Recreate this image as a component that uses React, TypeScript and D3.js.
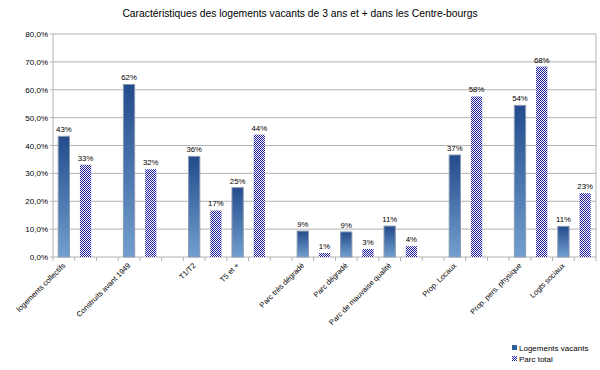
import React from "react";
import { scaleBand, scaleLinear, format } from "d3";

// one slot per bar; labels sit under the first bar of each group
const categories = [
  "logements collectifs", "", "",
  "Construits avant 1949", "", "",
  "T1/T2", "", "T5 et +", "", "",
  "Parc très dégradé", "", "Parc dégradé", "", "Parc de mauvaise qualité", "", "",
  "Prop. Locaux", "", "",
  "Prop. pers. physique", "", "Logts sociaux", "",
];
const vacants = [43.3, null, null, 61.9, null, null, 36.1, null, 24.9, null, null, 9.3, null, 9.0, null, 11.1, null, null, 36.6, null, null, 54.4, null, 11.0, null];
const parcTotal = [null, 33.1, null, null, 31.5, null, null, 16.7, null, 43.9, null, null, 1.4, null, 2.9, null, 3.9, null, null, 57.6, null, null, 68.3, null, 22.9];
const yTicks = [0, 10, 20, 30, 40, 50, 60, 70, 80];
const seriesNames = ["Logements vacants", "Parc total"];

const W = 600;
const H = 370;
const margin = { top: 34, right: 4, bottom: 113, left: 53 };

export default function App() {
  const x = scaleBand<number>()
    .domain(categories.map((_, i) => i))
    .range([margin.left, W - margin.right])
    .paddingInner(0.48)
    .paddingOuter(0.24);
  const y = scaleLinear().domain([0, 80]).range([H - margin.bottom, margin.top]);
  const step = x.step();
  const fmtAxis = (v: number) => format(".1f")(v).replace(".", ",") + "%";
  const font = "'Liberation Sans', Arial, sans-serif";
  const slotLeft = (i: number) => margin.left + i * step;

  const bars: { i: number; v: number; s: number }[] = [];
  categories.forEach((_, i) => {
    if (vacants[i] != null) bars.push({ i, v: vacants[i] as number, s: 0 });
    if (parcTotal[i] != null) bars.push({ i, v: parcTotal[i] as number, s: 1 });
  });

  return (
    <svg width={W} height={H} style={{ position: "absolute", left: 0, top: 0, fontFamily: font }}>
      <defs>
        <linearGradient id="gradVac" x1="0" y1="0" x2="0" y2="1">
          <stop offset="0%" stopColor="#244b8c" />
          <stop offset="100%" stopColor="#729fcf" />
        </linearGradient>
        <pattern id="checker" width="2" height="2" patternUnits="userSpaceOnUse">
          <rect width="2" height="2" fill="#ffffff" />
          <rect width="1" height="1" fill="#1c1c9c" />
          <rect x="1" y="1" width="1" height="1" fill="#1c1c9c" />
        </pattern>
      </defs>
      <rect width={W} height={H} fill="#fff" />
      <text x={W / 2} y={17} textAnchor="middle" fontSize={10.3} fill="#000">
        Caractéristiques des logements vacants de 3 ans et + dans les Centre-bourgs
      </text>

      {/* grid + y axis */}
      {yTicks.map((t) => (
        <g key={t}>
          <line x1={margin.left - 3} x2={W - margin.right} y1={y(t)} y2={y(t)} stroke="#b3b3b3" />
          <text x={margin.left - 5} y={y(t) + 3} textAnchor="end" fontSize={8} fill="#000">
            {fmtAxis(t)}
          </text>
        </g>
      ))}
      <line x1={W - margin.right} x2={W - margin.right} y1={margin.top} y2={y(0)} stroke="#b3b3b3" />
      <line x1={margin.left} x2={margin.left} y1={margin.top} y2={y(0)} stroke="#b3b3b3" />

      {/* x ticks */}
      {categories.map((_, i) => (
        <line key={i} x1={slotLeft(i)} x2={slotLeft(i)} y1={y(0)} y2={y(0) + 4} stroke="#b3b3b3" />
      ))}
      <line x1={W - margin.right} x2={W - margin.right} y1={y(0)} y2={y(0) + 4} stroke="#b3b3b3" />

      {/* bars */}
      {bars.map((b) => (
        <g key={b.i}>
          <rect
            x={x(b.i)}
            y={y(b.v)}
            width={x.bandwidth()}
            height={y(0) - y(b.v)}
            fill={b.s === 0 ? "url(#gradVac)" : "url(#checker)"}
            stroke={b.s === 0 ? "#8a9bb3" : "none"}
            strokeWidth={1}
          />
          <text
            x={(x(b.i) as number) + x.bandwidth() / 2}
            y={y(b.v) - 4}
            textAnchor="middle"
            fontSize={7.8}
            fill="#000"
          >
            {Math.round(b.v) + "%"}
          </text>
        </g>
      ))}

      {/* category labels */}
      {categories.map((c, i) =>
        c ? (
          <text
            key={i}
            transform={`translate(${(x(i) as number) + x.bandwidth() / 2 + 2},${y(0) + 9}) rotate(-45)`}
            textAnchor="end"
            fontSize={7.5}
            fill="#000"
          >
            {c}
          </text>
        ) : null
      )}

      {/* legend */}
      {seriesNames.map((n, k) => (
        <g key={n} transform={`translate(512,${345 + k * 11})`}>
          <rect width={5} height={5} fill={k === 0 ? "#2f5d9c" : "url(#checker)"} />
          <text x={7} y={5.5} fontSize={8} fill="#000">{n}</text>
        </g>
      ))}
    </svg>
  );
}
